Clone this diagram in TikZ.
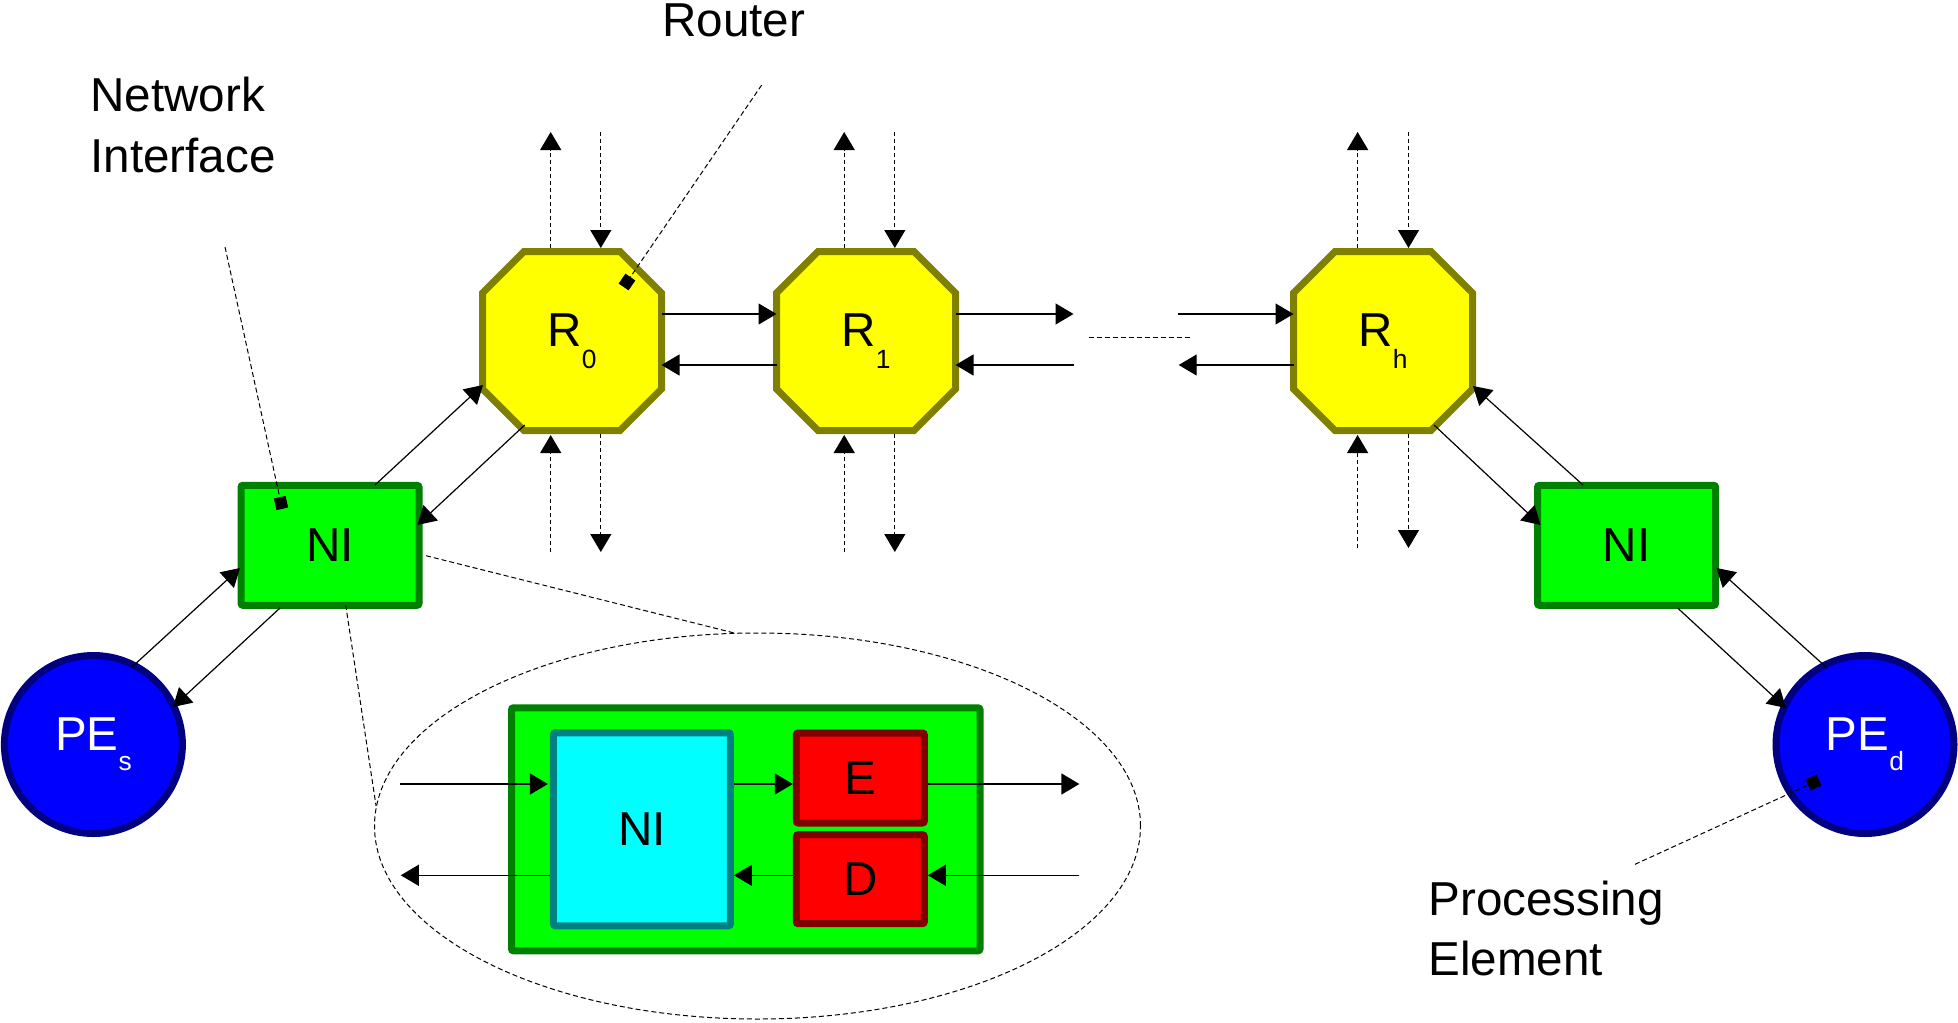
\documentclass[tikz,border=0pt]{standalone}
\usepackage{fontspec}
\setmainfont{Liberation Sans}
\usetikzlibrary{arrows.meta,calc,shapes.geometric}

\definecolor{olivec}{HTML}{808000}
\definecolor{lgreen}{HTML}{00FF00}
\definecolor{dgreen}{HTML}{008000}
\definecolor{pblue}{HTML}{0000FF}
\definecolor{navyc}{HTML}{000080}
\definecolor{cyanc}{HTML}{00FFFF}
\definecolor{tealc}{HTML}{008080}
\definecolor{redc}{HTML}{FF0000}
\definecolor{maroonc}{HTML}{800000}
\definecolor{yelc}{HTML}{FFFF00}

\newcommand{\mybig}{\fontsize{23.8pt}{28pt}\selectfont}
\newcommand{\mysub}[2]{\raisebox{#1}{\fontsize{13.2pt}{15pt}\selectfont #2}}

\newcommand{\drawocto}[1]{%
  \draw[octo] ($(#1)+(-48,-89.5)$) -- ($(#1)+(48,-89.5)$) -- ($(#1)+(89.5,-48)$)
    -- ($(#1)+(89.5,48)$) -- ($(#1)+(48,89.5)$) -- ($(#1)+(-48,89.5)$)
    -- ($(#1)+(-89.5,48)$) -- ($(#1)+(-89.5,-48)$) -- cycle;}

\newcommand{\routerio}[4]{%
  \draw[dlink] ($(#1)+(#2,-93)$) -- ($(#1)+(#2,-209)$);
  \draw[dlink] ($(#1)+(#3,-209)$) -- ($(#1)+(#3,-93)$);
  \draw[dlink] ($(#1)+(#2,#4)$) -- ($(#1)+(#2,94)$);
  \draw[dlink] ($(#1)+(#3,93)$) -- ($(#1)+(#3,#4)$);}

\begin{document}
\begin{tikzpicture}[x=0.5pt,y=-0.5pt,
  octo/.style={fill=yelc,draw=olivec,line width=3.5pt,line join=miter},
  router/.style={rectangle,minimum size=89.5pt,inner sep=0pt,font=\mybig},
  nibox/.style={rectangle,rounded corners=1pt,fill=lgreen,draw=dgreen,line width=3.5pt,
     minimum width=89pt,minimum height=60pt,inner sep=0pt,font=\mybig},
  pe/.style={circle,fill=pblue,draw=navyc,line width=3.5pt,minimum size=89pt,
     inner sep=0pt,font=\mybig,text=white},
  inbox/.style={rectangle,rounded corners=1pt,line width=3.5pt,inner sep=0pt,font=\mybig},
  link/.style={-{Triangle[length=9pt,width=10.5pt]},line width=0.6pt},
  dlink/.style={link,dash pattern=on 2pt off 1.5pt},
  callout/.style={line width=0.5pt,dash pattern=on 2.5pt off 1.5pt},
  pin/.style={callout,-{Square[length=6pt,width=6pt,sep=-3pt]}},
  lbl/.style={inner sep=0pt,font=\mybig,anchor=base west}]

\useasboundingbox (0,0) rectangle (1958,1022);

% routers
\coordinate (R0c) at (572,341);
\coordinate (R1c) at (866,341);
\coordinate (Rhc) at (1383,341);
\drawocto{R0c}
\drawocto{R1c}
\drawocto{Rhc}
\node[router] (R0) at (R0c) {R\mysub{-11pt}{0}};
\node[router] (R1) at (R1c) {R\mysub{-11pt}{1}};
\node[router] (Rh) at (Rhc) {R\mysub{-11pt}{h}};

% network interfaces and PEs
\node[nibox] (NIl) at (330,545.3) {NI};
\node[nibox] (NIr) at (1626.5,545.3) {NI};
\node[pe] (PEs) at (93.4,744.5) {PE\mysub{-10pt}{s}};
\node[pe] (PEd) at (1865,744.5) {PE\mysub{-10pt}{d}};

% zoomed interface
\node[ellipse,draw,callout,minimum width=383pt,minimum height=193pt,inner sep=0pt] (zoomell) at (757.5,826) {};
\node[inbox,fill=lgreen,draw=dgreen,minimum width=234.25pt,minimum height=121.5pt] (NIbig) at (745.75,829.3) {};
\node[inbox,fill=cyanc,draw=tealc,minimum width=88.5pt,minimum height=96.5pt] (NIin) at (641.9,829.3) {NI};
\node[inbox,fill=redc,draw=maroonc,minimum width=64pt,minimum height=45pt] (E) at (860.3,778) {E};
\node[inbox,fill=redc,draw=maroonc,minimum width=64pt,minimum height=44.5pt] (D) at (860.3,879.2) {D};

% router vertical ports
\routerio{R0}{-21.3}{28.8}{211}
\routerio{R1}{-21.8}{28.8}{211}
\routerio{Rh}{-25.4}{25.5}{207}

% router horizontal links
\coordinate (gapL) at (1073.5,314);
\coordinate (gapLb) at (1073.5,365);
\coordinate (gapR) at (1178,314);
\coordinate (gapRb) at (1178.7,365);
\coordinate (dotsL) at (1088.6,337);
\coordinate (dotsR) at (1190.3,337);
\draw[link] ($(R0)+(89.5,-27)$) -- ($(R1)+(-89.5,-27)$);
\draw[link] ($(R1)+(-89.5,24)$) -- ($(R0)+(89.5,24)$);
\draw[link] ($(R1)+(89.5,-27)$) -- (gapL);
\draw[link] (gapLb) -- ($(R1)+(89.5,24)$);
\draw[link] (gapR) -- ($(Rh)+(-89.5,-27)$);
\draw[link] ($(Rh)+(-89.5,24)$) -- (gapRb);
\draw[callout] (dotsL) -- (dotsR);

% diagonal links
\draw[link] ($(NIl)+(45,-60.3)$) -- ($(R0)+(-89,44)$);
\draw[link] ($(R0)+(-47.3,84)$) -- ($(NIl)+(87.5,-20.3)$);
\draw[link] ($(PEs)+(38.6,-77.5)$) -- ($(NIl)+(-90,22.7)$);
\draw[link] ($(NIl)+(-50,62.7)$) -- ($(PEs)+(79.6,-37.5)$);
\draw[link] ($(Rh)+(51,84)$) -- ($(NIr)+(-86,-20.3)$);
\draw[link] ($(NIr)+(-43.5,-60.3)$) -- ($(Rh)+(90,45)$);
\draw[link] ($(NIr)+(51.1,62.7)$) -- ($(PEd)+(-79,-36.5)$);
\draw[link] ($(PEd)+(-38,-76.5)$) -- ($(NIr)+(90,22.7)$);

% inner links
\coordinate (inA) at (399.8,784);
\coordinate (outA) at (1079.4,784);
\coordinate (inB) at (1079.4,875.3);
\coordinate (outB) at (400.8,875.3);
\draw[link] (inA) -- ($(inA -| NIin.west)+(-2,0)$);
\draw[link] (inA -| NIin.east) -- (inA -| E.west);
\draw[link] (inA -| E.east) -- (outA);
\draw[link] (inB) -- (inB -| D.east);
\draw[link] (inB -| D.west) -- (inB -| NIin.east);
\draw[link] (inB -| NIin.west) -- (outB);

% callouts
\coordinate (routerTail) at (761.7,85);
\coordinate (niTail) at (225,247);
\coordinate (peTail) at (1635,864.3);
\draw[pin] (routerTail) -- ($(R0)+(55,-59)$);
\draw[pin] (niTail) -- ($(NIl)+(-49,-42.3)$);
\draw[pin] (peTail) -- ($(PEd)+(-51.5,38)$);
\draw[callout] ($(NIl)+(96,10.4)$) -- (zoomell.97.2);
\draw[callout] ($(NIl)+(15.7,59.7)$) -- (zoomell.177.6);

% labels
\node[lbl] (routerlbl) at (662,36.7) {Router};
\node[lbl] (netA) at (90,112) {Network};
\node[lbl] (netB) at (90,172) {Interface};
\node[lbl] (procA) at (1428,915) {Processing};
\node[lbl] (procB) at (1428,975) {Element};
\end{tikzpicture}
\end{document}
